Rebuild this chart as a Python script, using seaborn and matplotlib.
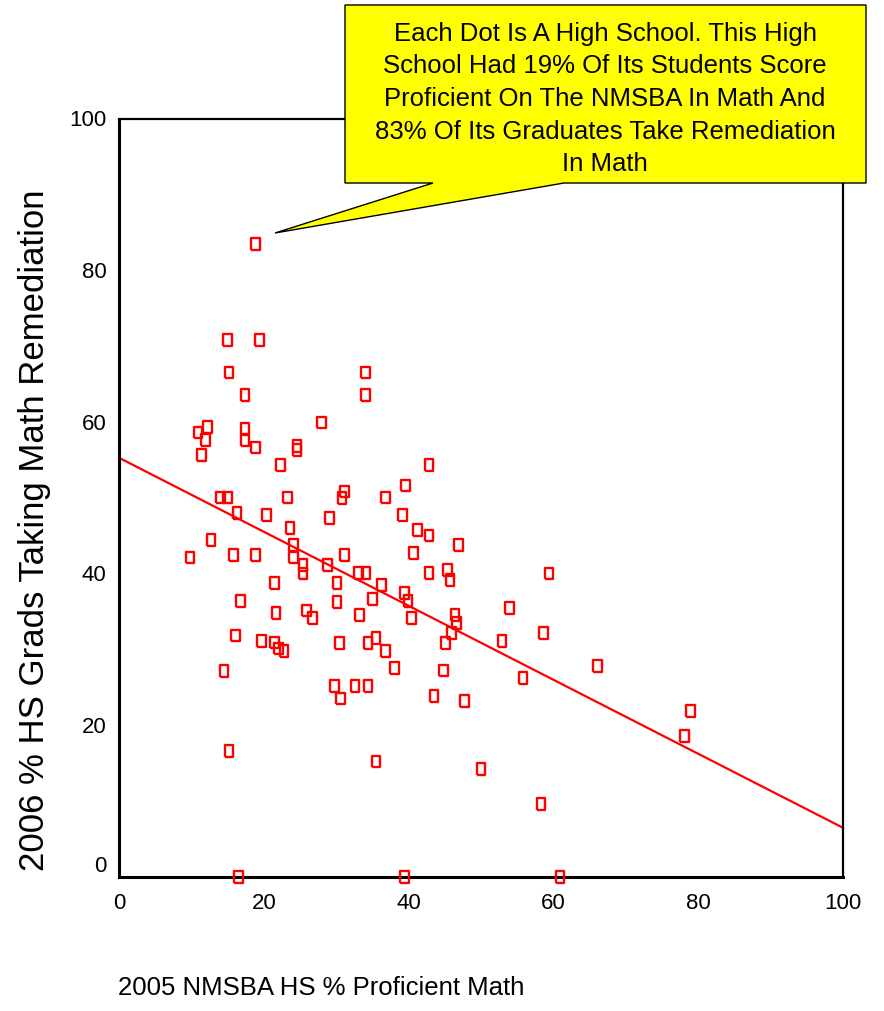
import matplotlib
matplotlib.use("Agg")
import matplotlib.pyplot as plt
from matplotlib.patches import Polygon
import seaborn as sns
import pandas as pd

# ---- data ----
proficient_math = [
    18.9, 15.0, 19.4, 15.2, 17.4, 34.0, 34.0, 28.0, 10.9, 12.2,
    11.9, 11.4, 17.4, 17.4, 18.9, 24.6, 24.6, 22.3, 14.0, 15.0,
    23.3, 31.1, 30.8, 16.3, 20.4, 29.1, 23.6, 12.7, 24.1, 9.8,
    15.8, 18.9, 24.1, 31.1, 25.4, 25.4, 28.8, 33.1, 34.1, 21.5,
    30.1, 35.0, 16.8, 30.1, 21.7, 25.9, 26.7, 33.2, 16.1, 19.7,
    21.5, 22.0, 22.8, 30.5, 34.4, 35.5, 14.5, 29.8, 32.6, 34.4,
    30.6, 15.2, 16.5, 42.8, 39.6, 36.8, 39.2, 41.2, 42.8, 46.9,
    40.7, 42.8, 45.4, 45.7, 36.3, 39.4, 39.9, 40.4, 46.4, 46.6,
    53.9, 45.9, 45.1, 52.9, 36.8, 38.1, 44.8, 43.5, 47.7, 35.5,
    50.0, 39.4, 59.4, 58.6, 66.1, 55.8, 78.9, 78.1, 58.3, 60.9,
]
remediation_math = [
    83.4, 70.8, 70.8, 66.5, 63.5, 66.5, 63.5, 59.9, 58.6, 59.3,
    57.6, 55.6, 59.0, 57.6, 56.6, 56.8, 56.3, 54.3, 50.0, 50.0,
    50.0, 50.8, 49.9, 48.0, 47.7, 47.3, 46.0, 44.4, 43.7, 42.1,
    42.4, 42.4, 42.1, 42.4, 41.1, 40.0, 41.1, 40.1, 40.1, 38.7,
    38.7, 36.6, 36.4, 36.2, 34.8, 35.1, 34.1, 34.5, 31.8, 31.1,
    30.9, 30.1, 29.8, 30.8, 30.8, 31.5, 27.1, 25.2, 25.2, 25.1,
    23.5, 16.6, 0.0, 54.3, 51.6, 50.0, 47.7, 45.7, 45.0, 43.7,
    42.7, 40.1, 40.4, 39.1, 38.5, 37.4, 36.4, 34.1, 34.5, 33.5,
    35.4, 32.1, 30.8, 31.1, 29.8, 27.5, 27.2, 23.8, 23.2, 15.2,
    14.2, 0.0, 40.0, 32.1, 27.8, 26.2, 21.9, 18.6, 9.6, 0.0,
]
tick_values = [0, 20, 40, 60, 80, 100]
x_label = "2005 NMSBA HS % Proficient Math"
y_label = "2006 % HS Grads Taking Math Remediation"
callout_text = ("Each Dot Is A High School. This High\n"
                "School Had 19% Of Its Students Score\n"
                "Proficient On The NMSBA In Math And\n"
                "83% Of Its Graduates Take Remediation\n"
                "In Math")

df = pd.DataFrame({"x": proficient_math, "y": remediation_math})

# ---- style ----
sns.set_theme(style="white")
plt.rcParams["font.family"] = ["Liberation Sans", "DejaVu Sans"]

W, H = 884, 1011
fig = plt.figure(figsize=(W / 100, H / 100), dpi=100)
fig.patch.set_facecolor("white")
ax = fig.add_axes([119 / W, 1 - 876.7 / H, (843 - 119) / W, (876.7 - 118.5) / H])
ax.set_facecolor("white")
ax.set_xlim(0, 100)
ax.set_ylim(0, 100)

rect = [(-0.37, -0.5), (0.37, -0.5), (0.37, 0.5), (-0.37, 0.5), (-0.37, -0.5)]
sns.scatterplot(data=df, x="x", y="y", ax=ax, marker=rect, s=72,
                color="#ff0000", facecolor="none", edgecolor="#ff0000",
                linewidth=1.7, clip_on=False, zorder=3, legend=False)
sns.regplot(data=df, x="x", y="y", ax=ax, scatter=False, ci=None,
            truncate=False, color="#ff0000", line_kws={"linewidth": 1.6})
ax.set_xlim(0, 100)
ax.set_ylim(0, 100)

ax.set_xticks(tick_values)
ax.set_yticks(tick_values)
ax.set_xticklabels([str(v) for v in tick_values])
ax.set_yticklabels([str(v) for v in tick_values])
ax.tick_params(axis="both", direction="out", length=3, width=3, color="black",
               labelsize=16, labelcolor="black")
ax.tick_params(axis="x", pad=9)
ax.tick_params(axis="y", pad=6)
ax.get_yticklabels()[0].set_va("bottom")

for side in ["left", "bottom"]:
    ax.spines[side].set_linewidth(2.2)
    ax.spines[side].set_color("black")
for side in ["top", "right"]:
    ax.spines[side].set_linewidth(1.6)
    ax.spines[side].set_color("black")
ax.set_xlabel("")
ax.set_ylabel("")

# axis titles
fig.text(118 / W, 1 - 995 / H, x_label, ha="left", va="baseline",
         fontsize=18.5, color="black")
fig.text(35 / W, 1 - 530 / H, y_label, rotation=90, ha="center", va="center",
         fontsize=25, color="black")

# callout box with pointer
pts = [(345, 5), (866, 5), (866, 183), (564, 183), (275, 233), (433, 183), (345, 183)]
poly = Polygon([(px / W, 1 - py / H) for px, py in pts], closed=True,
               transform=fig.transFigure, facecolor="#ffff00",
               edgecolor="black", linewidth=1.0, zorder=5)
fig.add_artist(poly)
fig.text(605 / W, 1 - 99 / H, callout_text, ha="center", va="center",
         multialignment="center", fontsize=18.5, linespacing=1.45,
         color="black", zorder=6)

fig.savefig("out.png", dpi=100)
